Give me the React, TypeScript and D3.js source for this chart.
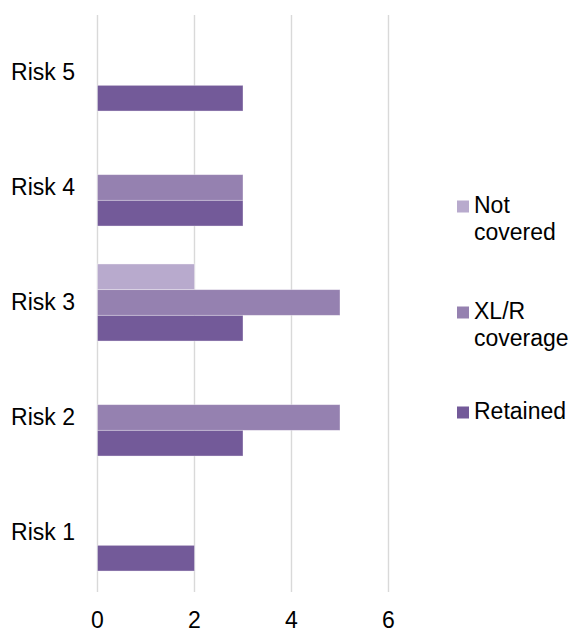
import React from "react";
import * as d3 from "d3";

const categories = ["Risk 1", "Risk 2", "Risk 3", "Risk 4", "Risk 5"];
const seriesNames = ["Not covered", "XL/R coverage", "Retained"];
const notCovered = [0, 0, 2, 0, 0];
const xlrCoverage = [0, 5, 5, 3, 0];
const retained = [2, 3, 3, 3, 3];
const xTicks = [0, 2, 4, 6];
const colors = ["#b8aacd", "#9581b0", "#735a99"];

const legendLines = [["Not", "covered"], ["XL/R", "coverage"], ["Retained"]];
const legendBaselines = [213, 319, 419];

export default function App() {
  const W = 574, H = 632;
  const font = "'Liberation Sans', Arial, sans-serif";
  const fs = 23;
  const x = d3.scaleLinear().domain([0, 6]).range([97.5, 388.5]);
  const y = d3
    .scaleBand<string>()
    .domain([...categories].reverse())
    .range([15, 590])
    .paddingInner(0.33)
    .paddingOuter(0.165);
  const inner = d3.scaleBand<string>().domain(seriesNames).range([0, y.bandwidth()]);
  const seriesVals = [notCovered, xlrCoverage, retained];

  return (
    <svg width={W} height={H} style={{ position: "absolute", left: 0, top: 0 }} fontFamily={font}>
      <rect width={W} height={H} fill="#fff" />
      {xTicks.map((t) => (
        <line key={t} x1={x(t)} x2={x(t)} y1={15} y2={592} stroke="#d9d9d9" strokeWidth={1.4} />
      ))}
      {categories.map((c, ci) =>
        seriesNames.map((s, si) => {
          const v = seriesVals[si][ci];
          if (!v) return null;
          return (
            <rect
              key={c + s}
              x={x(0)}
              y={(y(c) as number) + (inner(s) as number)}
              width={x(v) - x(0)}
              height={inner.bandwidth()}
              fill={colors[si]}
              stroke="#ffffff"
              strokeOpacity={0.45}
              strokeWidth={0.8}
            />
          );
        })
      )}
      {categories.map((c) => (
        <text key={c} x={75} y={(y(c) as number) + y.bandwidth() / 2 + 7.5} textAnchor="end" fontSize={fs} fill="#000">
          {c}
        </text>
      ))}
      {xTicks.map((t) => (
        <text key={t} x={x(t)} y={628} textAnchor="middle" fontSize={fs} fill="#000">
          {t}
        </text>
      ))}
      {seriesNames.map((s, i) => (
        <g key={s}>
          <rect x={457} y={legendBaselines[i] - 12.5} width={12} height={12} fill={colors[i]} />
          {legendLines[i].map((ln, li) => (
            <text key={li} x={474} y={legendBaselines[i] + li * 27} fontSize={fs} fill="#000">
              {ln}
            </text>
          ))}
        </g>
      ))}
    </svg>
  );
}
